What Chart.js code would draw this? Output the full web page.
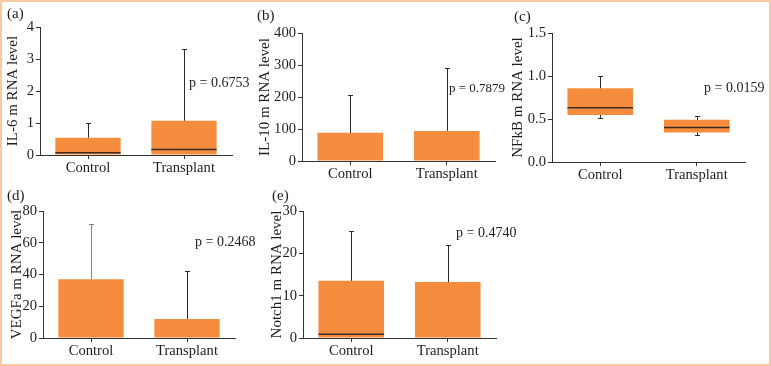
<!DOCTYPE html>
<html><head><meta charset="utf-8">
<script src="https://cdn.jsdelivr.net/npm/chart.js@4.4.0/dist/chart.umd.min.js"></script>
<style>
html,body{margin:0;padding:0;background:#fff;width:771px;height:366px;overflow:hidden;}
#frame{position:absolute;left:0;top:0;width:771px;height:366px;box-sizing:border-box;border:2px solid #f9c9a2;}
canvas{position:absolute;}
</style></head><body>
<div id="frame"></div>
<canvas id="ca" width="252" height="190" style="left:0px;top:0px;width:252px;height:190px"></canvas>
<canvas id="cb" width="266" height="190" style="left:250px;top:0px;width:266px;height:190px"></canvas>
<canvas id="cc" width="269" height="190" style="left:500px;top:0px;width:269px;height:190px"></canvas>
<canvas id="cd" width="264" height="174" style="left:0px;top:190px;width:264px;height:174px"></canvas>
<canvas id="ce" width="272" height="174" style="left:250px;top:190px;width:272px;height:174px"></canvas>
<script>
// ---------- data ----------
const categories = ['Control', 'Transplant'];

// (a) IL-6
const il6BoxLow = [0, 0];
const il6BoxHigh = [0.54, 1.07];
const il6Median = [0.07, 0.17];
const il6WhiskerLow = [null, null];
const il6WhiskerHigh = [1.0, 3.3];
const il6Ticks = [0, 1, 2, 3, 4];
const il6TickLabels = ['0', '1', '2', '3', '4'];

// (b) IL-10
const il10BoxLow = [0, 0];
const il10BoxHigh = [88, 94];
const il10Median = [null, null];
const il10WhiskerLow = [null, null];
const il10WhiskerHigh = [205, 292];
const il10Ticks = [0, 100, 200, 300, 400];
const il10TickLabels = ['0', '100', '200', '300', '400'];

// (c) NFkB
const nfkbBoxLow = [0.546, 0.343];
const nfkbBoxHigh = [0.857, 0.49];
const nfkbMedian = [0.63, 0.40];
const nfkbWhiskerLow = [0.51, 0.31];
const nfkbWhiskerHigh = [1.0, 0.54];
const nfkbTicks = [0, 0.5, 1.0, 1.5];
const nfkbTickLabels = ['0.0', '0.5', '1.0', '1.5'];

// (d) VEGFa
const vegfBoxLow = [0, 0];
const vegfBoxHigh = [37, 12];
const vegfMedian = [null, null];
const vegfWhiskerLow = [null, null];
const vegfWhiskerHigh = [72, 42.3];
const vegfTicks = [0, 20, 40, 60, 80];
const vegfTickLabels = ['0', '20', '40', '60', '80'];

// (e) Notch1
const notchBoxLow = [0, 0];
const notchBoxHigh = [13.5, 13.2];
const notchMedian = [0.9, null];
const notchWhiskerLow = [null, null];
const notchWhiskerHigh = [25.3, 21.9];
const notchTicks = [0, 10, 20, 30];
const notchTickLabels = ['0', '10', '20', '30'];

const pValues = ['p = 0.6753', 'p = 0.7879', 'p = 0.0159', 'p = 0.2468', 'p = 0.4740'];
const panelLabels = ['(a)', '(b)', '(c)', '(d)', '(e)'];
const yTitles = ['IL-6 m RNA level', 'IL-10 m RNA level', 'NFkB m RNA level', 'VEGFa m RNA level', 'Notch1 m RNA level'];

// ---------- styling ----------
const FONT = '"Liberation Serif", "DejaVu Serif", serif';
const ORANGE = '#f68c3e';
const AXIS = '#333333';
const TEXT = '#1e1e1e';
const TICK_SIZE = 14.6;

const boxExtras = {
  id: 'boxExtras',
  afterDatasetsDraw(chart, args, o) {
    const ctx = chart.ctx;
    const meta = chart.getDatasetMeta(0);
    const ys = chart.scales.y;
    ctx.save();
    meta.data.forEach((bar, i) => {
      const half = bar.width / 2;
      if (o.median[i] != null) {
        const py = ys.getPixelForValue(o.median[i]);
        ctx.strokeStyle = '#3a2a1e';
        ctx.lineWidth = 1.5;
        ctx.beginPath();
        ctx.moveTo(bar.x - half, py);
        ctx.lineTo(bar.x + half, py);
        ctx.stroke();
      }
      ctx.strokeStyle = (o.whiskerColors && o.whiskerColors[i]) || '#2a2a2a';
      ctx.lineWidth = 1;
      const x = Math.round(bar.x) + 0.5;
      if (o.whiskerHigh[i] != null) {
        const p0 = ys.getPixelForValue(o.high[i]);
        const p1 = Math.round(ys.getPixelForValue(o.whiskerHigh[i])) + 0.5;
        ctx.beginPath();
        ctx.moveTo(x, p0); ctx.lineTo(x, p1);
        ctx.moveTo(x - 2.5, p1); ctx.lineTo(x + 2.5, p1);
        ctx.stroke();
      }
      if (o.whiskerLow[i] != null) {
        const p0 = ys.getPixelForValue(o.low[i]);
        const p1 = Math.round(ys.getPixelForValue(o.whiskerLow[i])) + 0.5;
        ctx.beginPath();
        ctx.moveTo(x, p0); ctx.lineTo(x, p1);
        ctx.moveTo(x - 2.5, p1); ctx.lineTo(x + 2.5, p1);
        ctx.stroke();
      }
    });
    ctx.fillStyle = TEXT;
    ctx.textBaseline = 'middle';
    ctx.textAlign = 'left';
    ctx.font = '15px ' + FONT;
    ctx.fillText(o.label, o.labelPos[0], o.labelPos[1]);
    ctx.font = (o.pSize || 14) + 'px ' + FONT;
    ctx.fillText(o.pText, o.pPos[0], o.pPos[1]);
    ctx.restore();
  }
};

function makePanel(id, cfg) {
  new Chart(document.getElementById(id), {
    type: 'bar',
    data: {
      labels: categories,
      datasets: [{
        data: categories.map((c, i) => [cfg.low[i], cfg.high[i]]),
        backgroundColor: ORANGE,
        borderWidth: 0,
        barPercentage: 0.68,
        categoryPercentage: 1.0
      }]
    },
    options: {
      responsive: false,
      animation: false,
      devicePixelRatio: 1,
      layout: { padding: { top: cfg.padTop, right: cfg.padRight, left: 0, bottom: 0 } },
      plugins: {
        legend: { display: false },
        tooltip: { enabled: false },
        boxExtras: {
          low: cfg.low, high: cfg.high, median: cfg.median,
          whiskerLow: cfg.wLow, whiskerHigh: cfg.wHigh, whiskerColors: cfg.wColors,
          label: cfg.label, labelPos: cfg.labelPos,
          pText: cfg.pText, pPos: cfg.pPos, pSize: cfg.pSize
        }
      },
      scales: {
        x: {
          type: 'category',
          offset: true,
          afterFit: s => { s.height = cfg.xH; },
          ticks: { font: { family: FONT, size: TICK_SIZE }, color: TEXT, padding: 0, maxRotation: 0, autoSkip: false },
          grid: { offset: false, drawOnChartArea: false, drawTicks: true, tickLength: 4, color: AXIS },
          border: { display: true, color: AXIS, width: 1 }
        },
        y: {
          min: cfg.ticks[0],
          max: cfg.ticks[cfg.ticks.length - 1],
          afterBuildTicks: s => { s.ticks = cfg.ticks.map(v => ({ value: v })); },
          afterFit: s => { s.width = cfg.yW; },
          ticks: { font: { family: FONT, size: TICK_SIZE }, color: TEXT, padding: 2, callback: (v, i) => cfg.tickLabels[i] },
          grid: { drawOnChartArea: false, drawTicks: true, tickLength: 4, color: AXIS },
          border: { display: true, color: AXIS, width: 1 },
          title: { display: true, text: cfg.title, font: { family: FONT, size: 15 }, color: TEXT, padding: { top: cfg.titlePad, bottom: 0 } }
        }
      }
    },
    plugins: [boxExtras]
  });
}

makePanel('ca', {
  low: il6BoxLow, high: il6BoxHigh, median: il6Median, wLow: il6WhiskerLow, wHigh: il6WhiskerHigh,
  ticks: il6Ticks, tickLabels: il6TickLabels, title: yTitles[0],
  padTop: 27, padRight: 20, yW: 40, xH: 35, titlePad: 4,
  label: panelLabels[0], labelPos: [7, 14], pText: pValues[0], pPos: [189, 83]
});
makePanel('cb', {
  low: il10BoxLow, high: il10BoxHigh, median: il10Median, wLow: il10WhiskerLow, wHigh: il10WhiskerHigh,
  ticks: il10Ticks, tickLabels: il10TickLabels, title: yTitles[1],
  padTop: 33, padRight: 21, yW: 52, xH: 29, titlePad: 6,
  label: panelLabels[1], labelPos: [7, 16], pText: pValues[1], pPos: [199, 89], pSize: 13
});
makePanel('cc', {
  low: nfkbBoxLow, high: nfkbBoxHigh, median: nfkbMedian, wLow: nfkbWhiskerLow, wHigh: nfkbWhiskerHigh,
  ticks: nfkbTicks, tickLabels: nfkbTickLabels, title: yTitles[2],
  padTop: 33, padRight: 24, yW: 52, xH: 28, titlePad: 9,
  label: panelLabels[2], labelPos: [14, 17], pText: pValues[2], pPos: [204, 88]
});
makePanel('cd', {
  low: vegfBoxLow, high: vegfBoxHigh, median: vegfMedian, wLow: vegfWhiskerLow, wHigh: vegfWhiskerHigh,
  wColors: ['#808080', '#2a2a2a'],
  ticks: vegfTicks, tickLabels: vegfTickLabels, title: yTitles[3],
  padTop: 21, padRight: 29, yW: 43, xH: 26, titlePad: 8,
  label: panelLabels[3], labelPos: [7, 6], pText: pValues[3], pPos: [195, 52]
});
makePanel('ce', {
  low: notchBoxLow, high: notchBoxHigh, median: notchMedian, wLow: notchWhiskerLow, wHigh: notchWhiskerHigh,
  ticks: notchTicks, tickLabels: notchTickLabels, title: yTitles[4],
  padTop: 21, padRight: 26, yW: 53, xH: 26, titlePad: 18,
  label: panelLabels[4], labelPos: [22, 6], pText: pValues[4], pPos: [206, 43]
});
</script>
</body></html>
